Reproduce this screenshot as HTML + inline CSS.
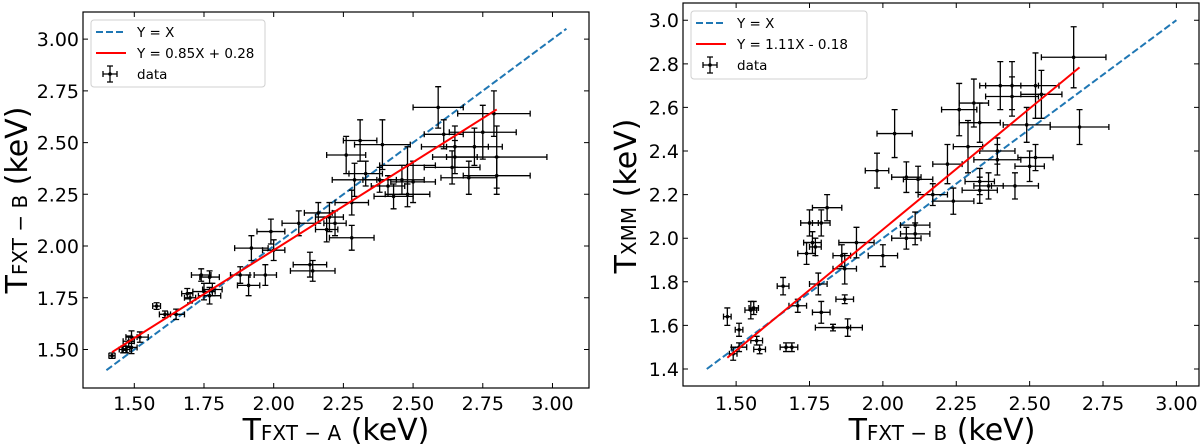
<!DOCTYPE html>
<html><head><meta charset="utf-8"><style>
body{margin:0;background:#fff}
svg{display:block;font-family:"DejaVu Sans","Liberation Sans",sans-serif}
</style></head><body>
<svg id="chart" width="1200" height="445" viewBox="0 0 1200 445"></svg>
<script>
const ticksX = [1.50,1.75,2.00,2.25,2.50,2.75,3.00];
const tickLabelsX = ["1.50","1.75","2.00","2.25","2.50","2.75","3.00"];
const ticksYL = [1.50,1.75,2.00,2.25,2.50,2.75,3.00];
const tickLabelsYL = ["1.50","1.75","2.00","2.25","2.50","2.75","3.00"];
const ticksYR = [1.4,1.6,1.8,2.0,2.2,2.4,2.6,2.8,3.0];
const tickLabelsYR = ["1.4","1.6","1.8","2.0","2.2","2.4","2.6","2.8","3.0"];
// left panel data: x, y, xerr, yerr
const leftX = [2.59,2.79,2.61,2.75,2.65,2.72,2.80,2.65,2.64,2.70,2.80,2.48,2.50,2.46,2.43,2.48,2.41,2.38,2.33,2.29,2.28,2.26,2.31,2.39,2.20,2.19,2.16,2.22,2.09,2.28,1.99,1.92,2.00,2.13,2.14,1.97,1.88,1.91,1.74,1.77,1.75,1.77,1.78,1.69,1.70,1.58,1.65,1.61,1.52,1.49,1.48,1.49,1.46,1.42,1.47];
const leftY = [2.67,2.64,2.54,2.55,2.48,2.48,2.43,2.43,2.38,2.33,2.34,2.39,2.31,2.32,2.24,2.25,2.29,2.32,2.35,2.32,2.21,2.44,2.51,2.49,2.14,2.08,2.16,2.11,2.11,2.04,2.07,1.99,1.98,1.91,1.88,1.86,1.86,1.81,1.86,1.85,1.78,1.76,1.79,1.77,1.75,1.71,1.67,1.67,1.56,1.56,1.54,1.51,1.50,1.47,1.50];
const leftXe = [.09,.13,.07,.12,.12,.10,.18,.08,.10,.10,.12,.10,.08,.08,.07,.08,.06,.06,.06,.08,.06,.07,.06,.10,.05,.04,.05,.04,.06,.08,.05,.06,.04,.06,.08,.04,.035,.04,.035,.035,.04,.04,.035,.02,.02,.014,.03,.02,.03,.02,.02,.02,.014,.011,.014];
const leftYe = [.10,.11,.07,.13,.10,.09,.15,.08,.08,.08,.09,.09,.10,.07,.06,.06,.05,.06,.06,.08,.06,.09,.10,.12,.07,.06,.05,.06,.06,.06,.06,.06,.05,.06,.05,.05,.04,.05,.03,.03,.04,.04,.03,.025,.025,.016,.025,.016,.025,.03,.025,.03,.016,.013,.016];
// right panel data
const rightX = [2.65,2.67,2.54,2.52,2.44,2.40,2.44,2.31,2.26,2.33,2.49,2.29,2.22,2.39,2.39,2.52,2.50,2.45,2.36,2.33,2.33,2.24,2.17,2.12,2.08,2.04,1.98,2.11,2.11,2.08,2.00,1.91,1.86,1.87,1.81,1.79,1.75,1.76,1.77,1.74,1.78,1.66,1.71,1.79,1.87,1.88,1.83,1.55,1.56,1.47,1.51,1.57,1.58,1.67,1.69,1.51,1.49];
const rightY = [2.83,2.51,2.66,2.70,2.70,2.70,2.65,2.62,2.59,2.53,2.52,2.42,2.34,2.36,2.40,2.37,2.33,2.24,2.24,2.26,2.22,2.17,2.20,2.27,2.28,2.48,2.31,2.06,2.02,2.00,1.92,1.98,1.92,1.86,2.14,2.07,2.07,1.98,1.96,1.93,1.79,1.78,1.69,1.66,1.72,1.59,1.59,1.67,1.68,1.64,1.58,1.53,1.49,1.50,1.50,1.50,1.47];
const rightXe = [.11,.10,.07,.08,.09,.07,.09,.05,.06,.07,.08,.05,.05,.08,.06,.06,.05,.08,.05,.05,.06,.07,.05,.05,.05,.06,.04,.05,.05,.05,.05,.06,.03,.04,.05,.03,.03,.03,.02,.03,.03,.02,.03,.03,.03,.05,.06,.02,.016,.013,.013,.02,.02,.02,.02,.026,.013];
const rightYe = [.14,.08,.11,.15,.11,.11,.09,.11,.12,.09,.08,.12,.09,.07,.06,.06,.07,.06,.06,.06,.06,.06,.05,.06,.07,.11,.08,.06,.05,.05,.05,.07,.05,.07,.06,.06,.06,.05,.04,.05,.05,.04,.03,.05,.02,.04,.015,.04,.03,.04,.03,.02,.02,.02,.02,.02,.03];
const leftFit = [0.85,0.28], leftFitRange=[1.42,2.80], leftDiag=[1.40,3.05];
const rightFit = [1.11,-0.18], rightFitRange=[1.47,2.67], rightDiag=[1.40,3.00];

const NS="http://www.w3.org/2000/svg";
const svg=document.getElementById('chart');
function mk(tag,attrs,parent){const e=document.createElementNS(NS,tag);for(const k in attrs)e.setAttribute(k,attrs[k]);(parent||svg).appendChild(e);return e;}

function panel(cfg){
  const g=mk('g',{});
  
  
  const {L,R,T,B,x0,x1,y0,y1}=cfg;
  const sx=v=>L+(v-x0)/(x1-x0)*(R-L);
  const sy=v=>B-(v-y0)/(y1-y0)*(B-T);
  // ticks
  ticksX.forEach((t,i)=>{
    const x=sx(t);
    const tk=mk('path',{d:`M${x},${B}v-5M${x},${T}v5`,stroke:'#000','stroke-width':1},g);
    
    
    const tx=mk('text',{x:x,y:410,'font-size':19,'text-anchor':'middle',fill:'#000'},g);
    tx.textContent=tickLabelsX[i];
    
    
  });
  cfg.ticksY.forEach((t,i)=>{
    const y=sy(t);
    const tk=mk('path',{d:`M${L},${y}h5M${R},${y}h-5`,stroke:'#000','stroke-width':1},g);
    
    
    const tx=mk('text',{x:L-4,y:y+7,'font-size':19,'text-anchor':'end',fill:'#000'},g);
    tx.textContent=cfg.tickLabelsY[i];
    
    
  });
  // diag
  const d=mk('line',{x1:sx(cfg.diag[0]),y1:sy(cfg.diag[0]),x2:sx(cfg.diag[1]),y2:sy(cfg.diag[1]),stroke:'#1f77b4','stroke-width':2,'stroke-dasharray':'7,3'},g);
  
  
  // errorbars
  for(let i=0;i<cfg.X.length;i++){
    const x=sx(cfg.X[i]),y=sy(cfg.Y[i]);
    const xa=sx(cfg.X[i]-cfg.Xe[i]),xb=sx(cfg.X[i]+cfg.Xe[i]);
    const ya=sy(cfg.Y[i]-cfg.Ye[i]),yb=sy(cfg.Y[i]+cfg.Ye[i]);
    const p=mk('path',{d:`M${xa},${y}H${xb}M${xa},${y-3}v6M${xb},${y-3}v6M${x},${ya}V${yb}M${x-3},${ya}h6M${x-3},${yb}h6`,stroke:'#000','stroke-width':1.3,fill:'none'},g);
    
    
    const c=mk('circle',{cx:x,cy:y,r:1.8,fill:'#000'},g);
    
    
  }
  // fit
  const [m,b]=cfg.fit;
  const f=mk('line',{x1:sx(cfg.fitRange[0]),y1:sy(m*cfg.fitRange[0]+b),x2:sx(cfg.fitRange[1]),y2:sy(m*cfg.fitRange[1]+b),stroke:'#ff0000','stroke-width':2},g);
  
  
  // frame
  const fr=mk('rect',{x:L,y:T,width:R-L,height:B-T,fill:'none',stroke:'#000','stroke-width':1.2},g);
  
  
  // legend
  const lg=mk('g',{},g);
  
  
  const [lx,ly,lw,lh]=cfg.leg;
  mk('rect',{x:lx,y:ly,width:lw,height:lh,rx:3,fill:'#fff','fill-opacity':0.8,stroke:'#d0d0d0','stroke-width':1},lg);
  const e1=ly+12,e2=ly+33,e3=ly+54;
  mk('line',{x1:lx+5,y1:e1,x2:lx+35,y2:e1,stroke:'#1f77b4','stroke-width':2,'stroke-dasharray':'7,3'},lg);
  mk('line',{x1:lx+5,y1:e2,x2:lx+35,y2:e2,stroke:'#ff0000','stroke-width':2},lg);
  mk('path',{d:`M${lx+12},${e3}h14M${lx+12},${e3-3}v6M${lx+26},${e3-3}v6M${lx+19},${e3-8}v16M${lx+16},${e3-8}h6M${lx+16},${e3+8}h6`,stroke:'#000','stroke-width':1.3,fill:'none'},lg);
  mk('circle',{cx:lx+19,cy:e3,r:1.8,fill:'#000'},lg);
  const labels=['Y = X',cfg.fitLabel,'data'];
  [e1,e2,e3].forEach((yy,i)=>{
    const t=mk('text',{x:lx+46,y:yy+5,'font-size':13.5,fill:'#000'},lg);
    t.textContent=labels[i];
    
    
  });
  // axis labels
  const xl=mk('text',{x:cfg.xlab[0],y:440,'font-size':30,'text-anchor':'middle',fill:'#000'},g);
  xl.innerHTML=`T<tspan font-size="20">${cfg.xsub}</tspan> (keV)`;
  
  
  const yl=mk('text',{x:0,y:0,'font-size':30,'text-anchor':'middle',fill:'#000',transform:`translate(${cfg.ylab[0]},${cfg.ylab[1]}) rotate(-90)`},g);
  yl.innerHTML=`T<tspan font-size="20">${cfg.ysub}</tspan> (keV)`;
  
  
}

panel({name:'left-panel',L:83,R:589,T:12,B:388,x0:1.316,x1:3.131,y0:1.314,y1:3.131,
  ticksY:ticksYL,tickLabelsY:tickLabelsYL,X:leftX,Y:leftY,Xe:leftXe,Ye:leftYe,
  fit:leftFit,fitRange:leftFitRange,diag:leftDiag,fitLabel:'Y = 0.85X + 0.28',
  leg:[91,20,174,67],xlab:[336],ylab:[27,200],xsub:'FXT − A',ysub:'FXT − B'});
panel({name:'right-panel',L:683,R:1199,T:3,B:386,x0:1.319,x1:3.077,y0:1.322,y1:3.079,
  ticksY:ticksYR,tickLabelsY:tickLabelsYR,X:rightX,Y:rightY,Xe:rightXe,Ye:rightYe,
  fit:rightFit,fitRange:rightFitRange,diag:rightDiag,fitLabel:'Y = 1.11X  - 0.18',
  leg:[691,11,176,68],xlab:[942],ylab:[636,196],xsub:'FXT − B',ysub:'XMM'});
</script>
</body></html>
